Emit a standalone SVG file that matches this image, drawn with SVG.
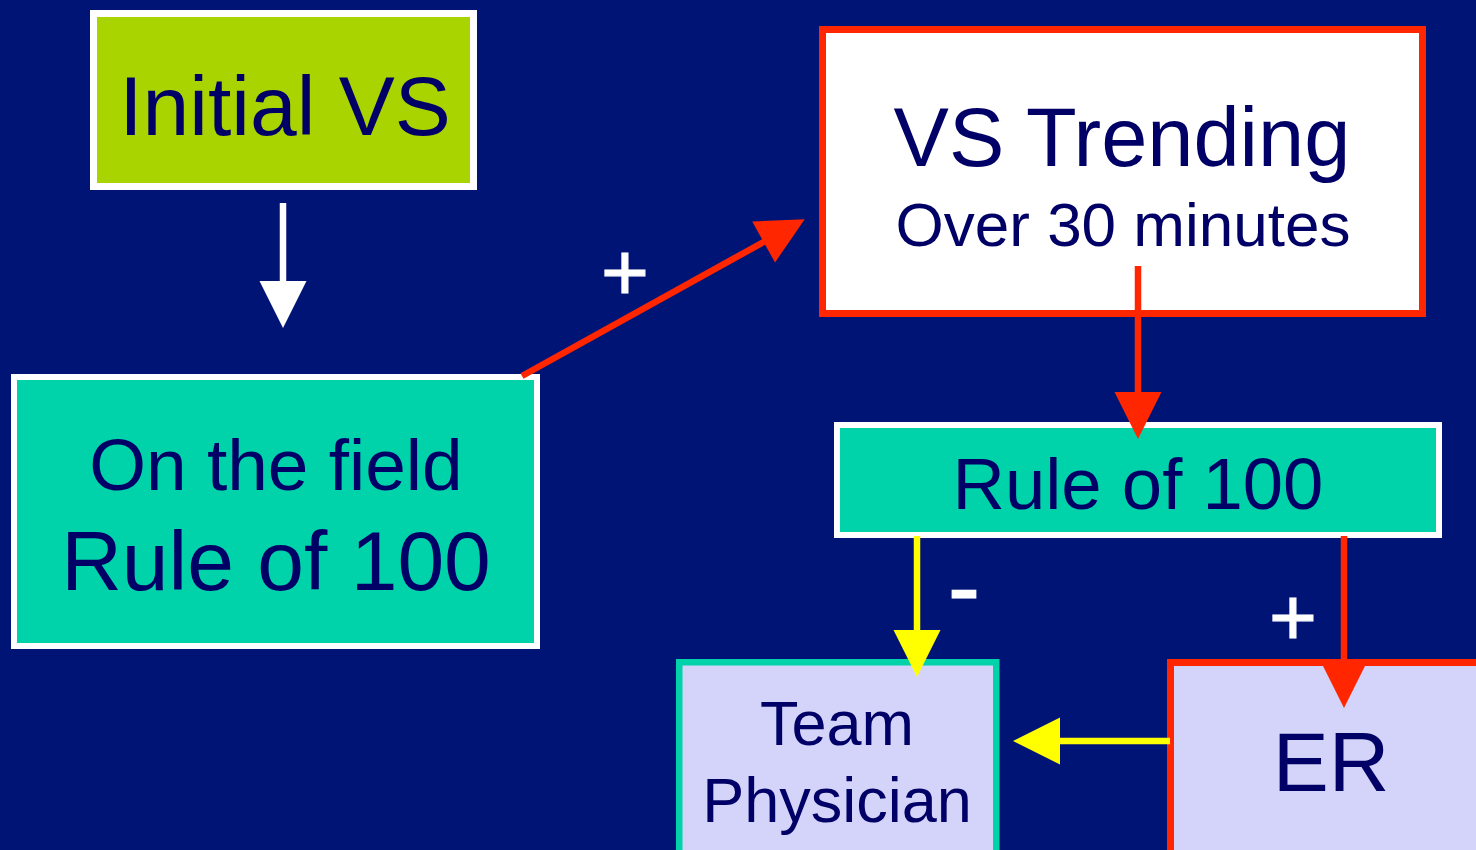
<svg xmlns="http://www.w3.org/2000/svg" width="1476" height="850" viewBox="0 0 1476 850">
  <style>
    .lbl { font-family: "Liberation Sans", Arial, sans-serif; fill: #000066; text-anchor: middle; }
    .sign { font-family: "Liberation Sans", Arial, sans-serif; fill: #ffffff; stroke: #ffffff; stroke-width: 1.2; text-anchor: middle; }
    .edge { fill: none; stroke-width: 6.5; stroke-linecap: butt; }
    .white { stroke: #ffffff; }
    .red { stroke: #ff2600; }
    .yellow { stroke: #ffff00; }
  </style>
  <defs>
    <marker id="headWhite" markerUnits="userSpaceOnUse" viewBox="0 0 48 48" markerWidth="48" markerHeight="48" refX="1" refY="24" orient="auto" overflow="visible">
      <path d="M0,0.5 L47,24 L0,47.5 z" fill="#ffffff"/>
    </marker>
    <marker id="headRed" markerUnits="userSpaceOnUse" viewBox="0 0 48 48" markerWidth="48" markerHeight="48" refX="1" refY="24" orient="auto" overflow="visible">
      <path d="M0,0.5 L47,24 L0,47.5 z" fill="#ff2600"/>
    </marker>
    <marker id="headYellow" markerUnits="userSpaceOnUse" viewBox="0 0 48 48" markerWidth="48" markerHeight="48" refX="1" refY="24" orient="auto" overflow="visible">
      <path d="M0,0.5 L47,24 L0,47.5 z" fill="#ffff00"/>
    </marker>
  </defs>

  <rect x="0" y="0" width="1476" height="850" fill="#001476"/>

  <g id="initial-vs">
    <rect x="93.5" y="13.5" width="380" height="173" fill="#aad400" stroke="#ffffff" stroke-width="7"/>
    <text class="lbl" x="285" y="135" font-size="84">Initial VS</text>
  </g>

  <g id="on-the-field">
    <rect x="14" y="377" width="523" height="269" fill="#00d2aa" stroke="#ffffff" stroke-width="6"/>
    <text class="lbl" x="276" y="490" font-size="73">On the field</text>
    <text class="lbl" x="276" y="590" font-size="84">Rule of 100</text>
  </g>

  <g id="vs-trending">
    <rect x="822.5" y="29.5" width="600" height="284" fill="#ffffff" stroke="#ff2600" stroke-width="7"/>
    <text class="lbl" x="1122" y="166" font-size="83">VS Trending</text>
    <text class="lbl" x="1123" y="246" font-size="62">Over 30 minutes</text>
  </g>

  <g id="rule-of-100">
    <rect x="837" y="425" width="602" height="110" fill="#00d2aa" stroke="#ffffff" stroke-width="6"/>
    <text class="lbl" x="1138" y="509" font-size="72.5">Rule of 100</text>
  </g>

  <g id="team-physician">
    <rect x="679.25" y="662.25" width="317" height="220" fill="#d4d4fa" stroke="#00d2aa" stroke-width="6.5"/>
    <text class="lbl" x="837" y="745" font-size="63">Team</text>
    <text class="lbl" x="837" y="822" font-size="63">Physician</text>
  </g>

  <g id="er">
    <rect x="1170.5" y="662.5" width="400" height="300" fill="#d4d4fa" stroke="#ff2600" stroke-width="7"/>
    <text class="lbl" x="1331" y="791" font-size="84">ER</text>
  </g>

  <g id="connectors">
    <line class="edge white" x1="283" y1="203" x2="283" y2="282" marker-end="url(#headWhite)"/>
    <line class="edge red" x1="522" y1="376" x2="764.5" y2="241.5" marker-end="url(#headRed)"/>
    <line class="edge red" x1="1138" y1="266" x2="1138" y2="393" marker-end="url(#headRed)"/>
    <line class="edge yellow" x1="917" y1="536" x2="917" y2="631" marker-end="url(#headYellow)"/>
    <line class="edge red" x1="1344" y1="536" x2="1344" y2="662" marker-end="url(#headRed)"/>
    <line class="edge yellow" x1="1170" y1="741" x2="1059" y2="741" marker-end="url(#headYellow)"/>
  </g>

  <g id="signs">
    <text class="sign" x="625" y="300" font-size="82">+</text>
    <text class="sign" x="964" y="620" font-size="96">-</text>
    <text class="sign" x="1293" y="645" font-size="82">+</text>
  </g>
</svg>
